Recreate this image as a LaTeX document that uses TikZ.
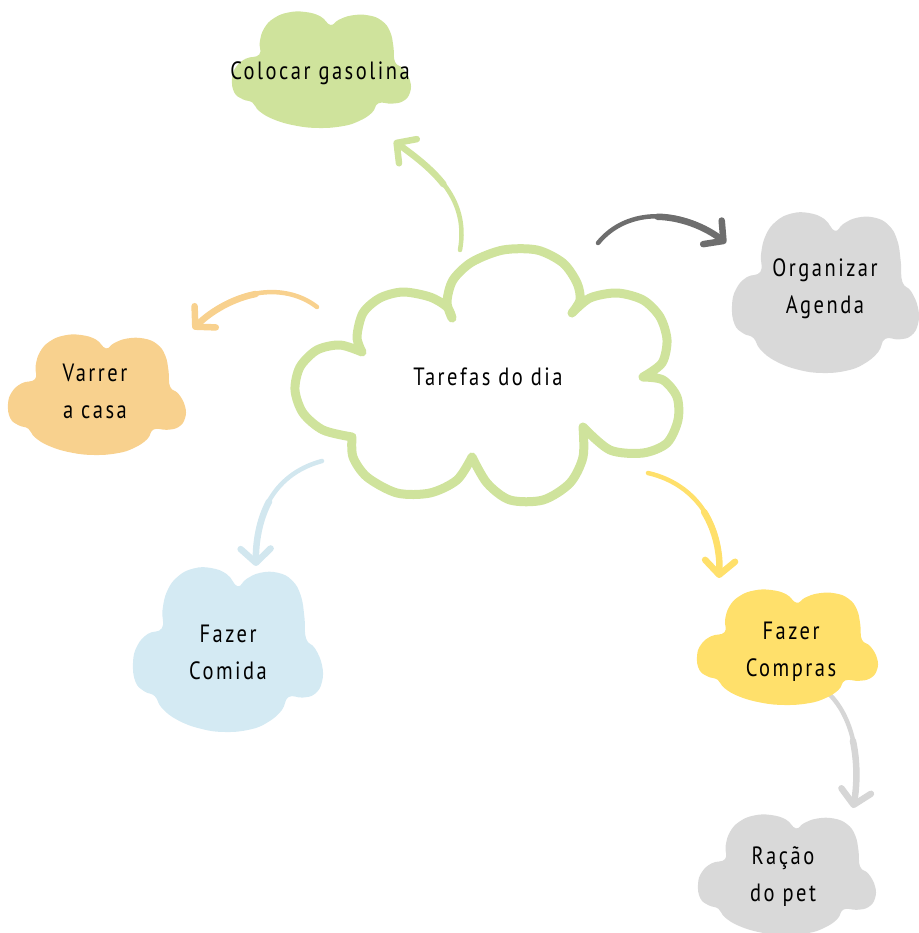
\documentclass[tikz,border=0pt]{standalone}
\usepackage{fontspec}
\newfontfamily\hand[LetterSpace=10,FakeStretch=0.82]{PT Sans}
\usetikzlibrary{arrows.meta}
\definecolor{cgreen}{HTML}{CFE39C}
\definecolor{corange}{HTML}{F8D18E}
\definecolor{cgrey}{HTML}{D9D9D9}
\definecolor{cblue}{HTML}{D4EAF3}
\definecolor{cyellow}{HTML}{FFE06B}
\definecolor{adark}{HTML}{6E6E6E}
\definecolor{alight}{HTML}{D6D6D6}
\definecolor{ablue}{HTML}{D2E7EF}
\newcommand\blobcloud[5]{%
  \begin{scope}[shift={(#2,#3)}, xscale=#4, yscale=#5]
    \fill[#1] plot[smooth cycle, tension=0.75] coordinates {
      (0,0.577) (0.022,0.475) (0.078,0.402) (0.153,0.367) (0.156,0.257)
      (0.181,0.140) (0.237,0.052) (0.320,0.003) (0.413,0.0) (0.497,0.038)
      (0.553,0.111) (0.600,0.067) (0.674,0.029) (0.767,0.029) (0.842,0.076)
      (0.888,0.169) (0.907,0.300) (0.916,0.431) (0.963,0.490) (1.0,0.592)
      (1.0,0.694) (0.963,0.767) (0.898,0.790) (0.823,0.787) (0.786,0.869)
      (0.711,0.942) (0.618,0.985) (0.488,1.0) (0.358,0.980) (0.236,0.927)
      (0.153,0.854) (0.115,0.781) (0.060,0.752) (0.013,0.694)};
  \end{scope}}
\begin{document}
\begin{tikzpicture}[x=1pt,y=-1pt,
  arr/.style={line width=4.5pt, line cap=round, line join=round,
    -{Straight Barb[length=14pt,width=30pt,round,line width=6.5pt]}},
  thick half/.style={line width=6.5pt, line cap=round, shorten >=5pt},
  lbl/.style={font=\hand\fontsize{25}{37}\selectfont, align=center, text=black, inner sep=0pt}]
\useasboundingbox (0,0) rectangle (918,933);
% arrow end points
\coordinate (gA) at (460,250); \coordinate (gB) at (394,141);
\coordinate (oA) at (317,307); \coordinate (oB) at (193,329);
\coordinate (dA) at (598,243); \coordinate (dB) at (726,243);
\coordinate (bA) at (322,461); \coordinate (bB) at (256,566);
\coordinate (yA) at (648,473); \coordinate (yB) at (719,578);
\coordinate (lA) at (828,693); \coordinate (lB) at (853,808);
% arrows (thin full stroke, thicker second half for a tapered look)
\draw[arr, cgreen] (gA) .. controls (470,195) and (428,166) .. (gB);
\draw[thick half, cgreen] (443.5,184.25) .. controls (430,167) and (411,153.5) .. (gB);
\draw[arr, corange] (oA) .. controls (282,280) and (230,292) .. (oB);
\draw[thick half, corange] (255.75,294) .. controls (233.75,298.25) and (211.5,310.5) .. (oB);
\draw[arr, adark] (dA) .. controls (628,206) and (684,210) .. (dB);
\draw[thick half, adark] (657.5,216.75) .. controls (680.5,217.25) and (705,226.5) .. (dB);
\draw[arr, ablue] (bA) .. controls (270,475) and (255,520) .. (bB);
\draw[thick half, ablue] (269.1,501.5) .. controls (259,520.25) and (255.5,543) .. (bB);
\draw[arr, cyellow] (yA) .. controls (700,485) and (722,530) .. (yB);
\draw[thick half, cyellow] (704.1,512) .. controls (715.75,530.75) and (720.5,554) .. (yB);
\draw[arr, alight] (lA) .. controls (852,715) and (862,760) .. (lB);
\draw[thick half, alight] (852.9,740.75) .. controls (857.25,760.75) and (857.5,784) .. (lB);
% filled clouds
\blobcloud{cgreen}{232}{12}{178}{116}
\blobcloud{cgrey}{732}{213}{186}{160}
\blobcloud{corange}{8}{335}{177}{120}
\blobcloud{cblue}{133}{568}{189}{164}
\blobcloud{cyellow}{697}{590}{180}{115}
\blobcloud{cgrey}{698}{815}{177}{120}
% central cloud outline
\draw[cgreen, line width=9pt, line cap=round, line join=round]
  plot[smooth] coordinates {(452,318) (447,302) (453,280) (472,262) (503,250) (537,250) (563,263) (577,283) (580,300) (572,313)}
  plot[smooth] coordinates {(572,313) (590,298) (617,293) (643,300) (660,317) (667,340) (662,363) (643,377)}
  plot[smooth] coordinates {(643,377) (663,380) (677,397) (678,420) (667,443) (643,453) (610,450) (583,427)}
  plot[smooth] coordinates {(583,427) (583,457) (570,483) (543,500) (510,500) (487,483) (472,457)}
  plot[smooth] coordinates {(472,457) (457,480) (430,493) (397,493) (367,477) (353,457) (352,437)}
  plot[smooth] coordinates {(352,437) (323,430) (303,413) (295,390) (300,367) (317,350) (340,345) (362,352)}
  plot[smooth] coordinates {(362,352) (357,337) (363,313) (380,298) (403,292) (430,297) (447,307) (452,318)};
% labels
\node[lbl] (main) at (488,377) {Tarefas do dia};
\node[lbl] (gas) at (320,73) {Colocar gasolina};
\node[lbl] (org) at (825,289) {Organizar\\ Agenda};
\node[lbl] (var) at (95,391) {Varrer\\ a casa};
\node[lbl] (com) at (228,652) {Fazer\\ Comida};
\node[lbl] (cmp) at (791,652) {Fazer\\ Compras};
\node[lbl] (rac) at (783,877) {Ração\\ do pet};
\end{tikzpicture}
\end{document}
